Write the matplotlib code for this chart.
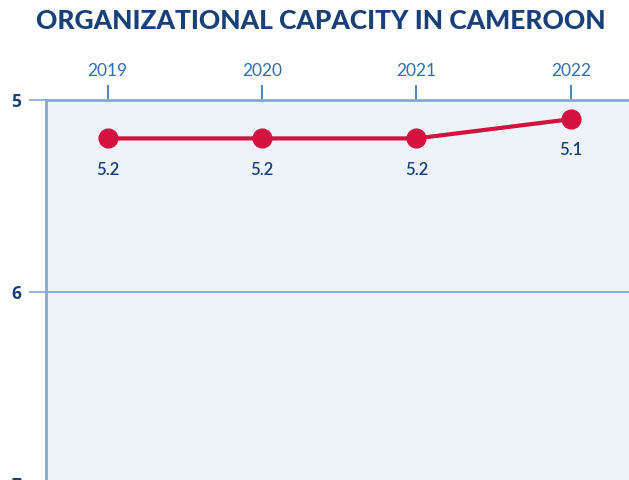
import matplotlib.pyplot as plt

# organizational capacity scores (lower is better, axis inverted)
years = [2019, 2020, 2021, 2022]
scores = [5.2, 5.2, 5.2, 5.1]
score_labels = ['5.2', '5.2', '5.2', '5.1']
y_ticks = [5, 6, 7]

navy = '#173f78'
blue = '#2f6fb0'
spine_blue = '#85a9d2'
red = '#d3123f'

fig = plt.figure(figsize=(6.29, 4.80), dpi=100)
ax = fig.add_axes([46 / 629, 1 - 503.2 / 480, 3.8 * 154.33 / 629, 403.2 / 480])
ax.set_facecolor('#eef3fa')

ax.plot(years, scores, color=red, lw=3, marker='o', markersize=13.5,
        solid_capstyle='round', zorder=3)
for x, y, s in zip(years, scores, score_labels):
    ax.annotate(s, (x, y), xytext=(0, -22.5), textcoords='offset points',
                ha='center', va='center', fontsize=12, color=navy,
                fontweight='semibold', family=['Lato', 'DejaVu Sans'])

ax.set_xlim(2018.6, 2022.4)
ax.set_ylim(7.1, 5)

ax.xaxis.tick_top()
ax.set_xticks(years)
ax.set_xticklabels([str(y) for y in years], fontsize=12.5, color=blue,
                   family=['Lato', 'DejaVu Sans'])
ax.tick_params(axis='x', direction='out', length=11, width=1.2,
               color=blue, pad=4)

ax.set_yticks(y_ticks)
ax.set_yticklabels([str(y) for y in y_ticks], fontsize=12.5, color=navy,
                   fontweight='bold', family=['Open Sans', 'DejaVu Sans'])
ax.tick_params(axis='y', direction='out', length=12, width=1.2,
               color=spine_blue, pad=6)

ax.axhline(6, color='#6f9fd0', lw=1.2, zorder=1)

for side in ['right', 'bottom']:
    ax.spines[side].set_visible(False)
for side in ['left', 'top']:
    ax.spines[side].set_color(spine_blue)
    ax.spines[side].set_linewidth(2)

fig.text(0.51, 0.956, 'ORGANIZATIONAL CAPACITY IN CAMEROON', ha='center',
         va='center', fontsize=19, fontweight='black', color=navy,
         family=['Lato', 'DejaVu Sans'])

fig.savefig('out.png', dpi=100)
